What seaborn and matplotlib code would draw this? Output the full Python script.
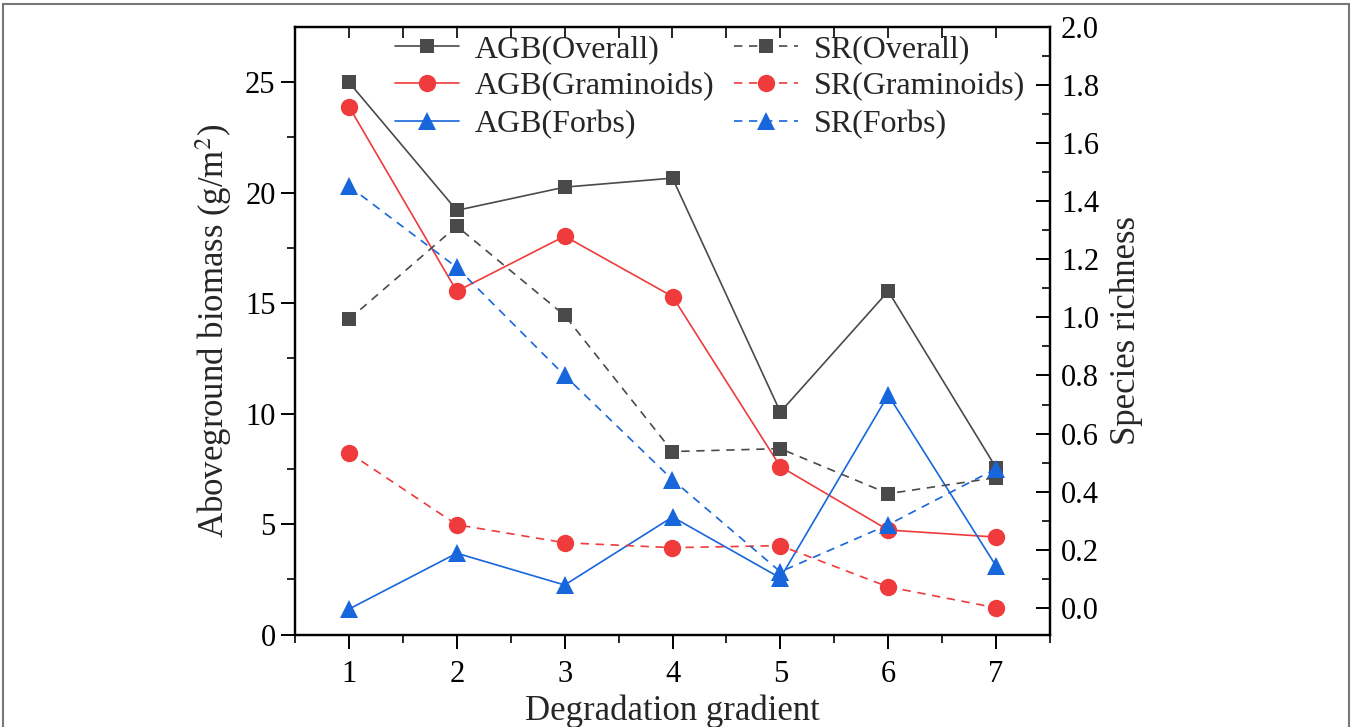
import numpy as np
import pandas as pd
import matplotlib
matplotlib.use("Agg")
import matplotlib.pyplot as plt
import seaborn as sns
from matplotlib.patches import Rectangle

# data
gradient = [1, 2, 3, 4, 5, 6, 7]
agb_overall = [25.0, 19.2, 20.25, 20.66, 10.07, 15.54, 7.55]
agb_graminoids = [23.9, 15.54, 18.03, 15.3, 7.6, 4.73, 4.41]
agb_forbs = [1.15, 3.68, 2.24, 5.32, 2.56, 10.84, 3.1]
sr_overall = [0.993, 1.314, 1.007, 0.538, 0.548, 0.393, 0.448]
sr_graminoids = [0.534, 0.286, 0.224, 0.207, 0.214, 0.072, 0.0]
sr_forbs = [1.452, 1.172, 0.80, 0.441, 0.124, 0.286, 0.479]

GRAY = "#4a4a4a"
RED = "#ef3b3b"
BLUE = "#1766dc"

sns.set_theme(style="white")
plt.rcParams["font.family"] = ["Liberation Serif", "DejaVu Serif"]
plt.rcParams["mathtext.fontset"] = "stix"

fig = plt.figure(figsize=(13.52, 7.27), dpi=100)
ax = fig.add_axes([295 / 1352, 1 - 634.5 / 727, 755 / 1352, 607.5 / 727])
ax2 = ax.twinx()

df = pd.DataFrame({
    "x": gradient,
    "agb_o": agb_overall, "agb_g": agb_graminoids, "agb_f": agb_forbs,
    "sr_o": sr_overall, "sr_g": sr_graminoids, "sr_f": sr_forbs,
})

styles = {"o": (GRAY, "s", 9.5), "g": (RED, "o", 12.5), "f": (BLUE, "^", 13)}
names = {"o": "Overall", "g": "Graminoids", "f": "Forbs"}

handles = []
for k in ["o", "g", "f"]:
    c, m, ms = styles[k]
    sns.lineplot(data=df, x="x", y="agb_" + k, ax=ax, color=c, marker=m,
                 markersize=ms, markeredgewidth=0, linewidth=1.2,
                 label=f"AGB({names[k]})", legend=False)
    handles.append(ax.lines[-1])
for k in ["o", "g", "f"]:
    c, m, ms = styles[k]
    sns.lineplot(data=df, x="x", y="sr_" + k, ax=ax2, color=c, marker=m,
                 markersize=ms, markeredgewidth=0, linewidth=1.2,
                 linestyle=(0, (5, 4)), label=f"SR({names[k]})", legend=False)
    handles.append(ax2.lines[-1])

ax.set_xlim(0.5, 7.5)
ax.set_ylim(0, 27.5)
ax2.set_ylim(-0.092, 2.0)

ax.set_xticks(gradient)
ax.set_xticks(np.arange(0.5, 7.6, 0.5), minor=True)
ax.set_yticks([0, 5, 10, 15, 20, 25])
ax.set_yticks(np.arange(2.5, 27.5, 5), minor=True)
ax2.set_yticks(np.arange(0, 2.01, 0.2))
ax2.set_yticks(np.arange(0.1, 2.0, 0.2), minor=True)
ax2.yaxis.set_major_formatter(matplotlib.ticker.FormatStrFormatter("%.1f"))

for a in (ax, ax2):
    for s in a.spines.values():
        s.set_color("black")
        s.set_linewidth(1.6)

ax.tick_params(axis="x", which="major", direction="out", length=10, width=1.4,
               labelsize=22, pad=8, bottom=True, colors="black")
ax.tick_params(axis="x", which="minor", direction="out", length=6, width=1.4, bottom=True)
ax.tick_params(axis="y", which="major", direction="out", length=10, width=1.4,
               labelsize=22, pad=4, left=True, colors="black")
ax.tick_params(axis="y", which="minor", direction="out", length=6, width=1.4, left=True)
ax2.tick_params(axis="y", which="major", direction="in", length=10, width=1.4,
                labelsize=22, pad=8, right=True, colors="black")
ax2.tick_params(axis="y", which="minor", direction="in", length=6, width=1.4, right=True)

top = ax.secondary_xaxis("top")
top.set_xticks(np.arange(0.5, 7.6, 0.5))
top.tick_params(axis="x", direction="in", length=8, width=1.4, labeltop=False, top=True)
top.set_xticklabels([])

ax.set_xlabel("Degradation gradient", fontsize=25, labelpad=4)
ax.set_ylabel("Aboveground biomass (g/m$^2$)", fontsize=25, labelpad=8)
ax2.set_ylabel("Species richness", fontsize=25, labelpad=8)

ax.legend(handles=handles, ncol=2, loc="upper left",
          bbox_to_anchor=(0.1325, 0.987), frameon=False, fontsize=23,
          borderpad=0, borderaxespad=0,
          handlelength=2.0, columnspacing=0.6, labelspacing=0.25,
          handletextpad=0.5)

fig.patches.append(Rectangle((3 / 1352, -0.1), 1346 / 1352, 1.1 - 4 / 727,
                             transform=fig.transFigure, fill=False,
                             edgecolor="#777777", linewidth=1.5))

fig.savefig("out.png", dpi=100)
